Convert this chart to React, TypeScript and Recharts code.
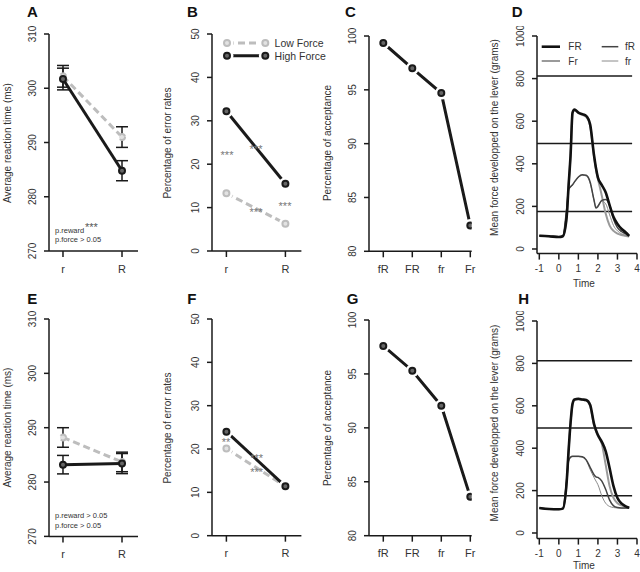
import React from 'react';
import { LineChart, Line, XAxis, YAxis, ErrorBar, ReferenceLine, Legend } from 'recharts';

const FONT = "'Liberation Sans', Arial, Helvetica, sans-serif";
const INK = '#1a1a1a';
const GRAY = '#bdbdbd';
const TXT = '#333';

// ---------- categories & ticks
const rewardCats = ['r', 'R'];
const acceptCats = ['fR', 'FR', 'fr', 'Fr'];
const rtTicks = [270, 280, 290, 300, 310];
const errTicks = [0, 10, 20, 30, 40, 50];
const accTicks = [80, 85, 90, 95, 100];
const forceTicks = [0, 200, 400, 600, 800, 1000];
const timeTicks = [-1, 0, 1, 2, 3, 4];

// ---------- Panel A (reaction time)
const rtLowA = [302.2, 291.0];
const rtLowErrA = [2.0, 1.9];
const rtHighA = [301.7, 284.8];
const rtHighErrA = [2.0, 1.85];
// ---------- Panel E
const rtLowE = [288.2, 283.7];
const rtLowErrE = [1.8, 1.8];
const rtHighE = [283.2, 283.4];
const rtHighErrE = [1.7, 1.85];
// ---------- Panel B (error rates)
const errLowB = [13.3, 6.3];
const errHighB = [32.2, 15.5];
// ---------- Panel F
const errLowF = [20.1, 11.4];
const errHighF = [24.0, 11.4];
// ---------- Panel C / G (acceptance)
const accC = [99.35, 97.0, 94.7, 82.4];
const accG = [97.6, 95.3, 92.05, 83.6];
// ---------- Panel D / H (force traces)
const time = [-1, -0.5, 0, 0.2, 0.4, 0.5, 0.6, 0.7, 0.8, 1.0, 1.2, 1.4, 1.6, 1.8, 1.9, 2.0, 2.2, 2.4, 2.6, 2.8, 3.0, 3.2, 3.4, 3.6];
const FR_D = [62, 60, 56, 60, 150, 300, 440, 640, 655, 640, 633, 625, 585, 440, 380, 335, 300, 265, 205, 150, 118, 95, 80, 62];
const Fr_D = [62, 60, 56, 60, 150, 300, 440, 635, 650, 638, 630, 620, 580, 435, 375, 330, 250, 165, 110, 85, 72, 66, 62, 58];
const fR_D = [62, 60, 56, 60, 190, 280, 292, 302, 315, 338, 348, 346, 315, 230, 192, 200, 228, 232, 205, 140, 100, 82, 72, 62];
const fr_D = [62, 60, 56, 60, 188, 278, 290, 300, 313, 336, 346, 343, 310, 228, 195, 205, 225, 212, 160, 110, 85, 72, 65, 60];
const FR_H = [118, 113, 112, 115, 240, 390, 520, 610, 630, 633, 630, 627, 605, 515, 485, 462, 430, 385, 305, 220, 165, 140, 127, 119];
const Fr_H = [118, 113, 112, 115, 240, 390, 520, 605, 628, 630, 628, 625, 600, 510, 480, 458, 420, 320, 220, 165, 140, 130, 123, 118];
const fR_H = [118, 113, 112, 115, 250, 340, 358, 362, 362, 362, 360, 345, 310, 275, 265, 262, 245, 205, 155, 128, 120, 118, 118, 118];
const fr_H = [118, 113, 112, 115, 250, 340, 356, 360, 360, 360, 358, 343, 300, 262, 245, 228, 175, 140, 125, 120, 118, 117, 117, 117];
const thresholds = [176, 495, 812];
const thresholdEnd = 3.75;

const forceNames = ['Low Force', 'High Force'];
const traceNames = ['FR', 'Fr', 'fR', 'fr'];
const traceStyle: Record<string, { stroke: string; width: number }> = {
  FR: { stroke: '#111', width: 2.6 },
  Fr: { stroke: '#9a9a9a', width: 2 },
  fR: { stroke: '#444', width: 1.5 },
  fr: { stroke: '#8a8a8a', width: 1 },
};

// ---------- rows built from the arrays
const rtRows = (low: number[], lowErr: number[], high: number[], highErr: number[]) =>
  rewardCats.map((c, i) => ({ x: i, cat: c, low: low[i], lowErr: lowErr[i], high: high[i], highErr: highErr[i] }));
const errRows = (low: number[], high: number[]) => rewardCats.map((c, i) => ({ x: i, cat: c, low: low[i], high: high[i] }));
const accRows = (v: number[]) => acceptCats.map((c, i) => ({ x: i, cat: c, v: v[i] }));
const traceRows = (FR: number[], Fr: number[], fR: number[], fr: number[]) =>
  time.map((t, i) => ({ t, FR: FR[i], Fr: Fr[i], fR: fR[i], fr: fr[i] }));

// ---------- layout helpers
type Box = { l: number; r: number; t: number; b: number };
const YW = 40, MT = 10, MR = 10, XH = 40;

const Frame = ({ box, data, children }: { box: Box; data: any[]; children: any }) => (
  <div style={{ position: 'absolute', left: box.l - YW, top: box.t - MT }}>
    <LineChart
      width={YW + box.r - box.l + MR}
      height={MT + box.b - box.t + XH}
      data={data}
      margin={{ top: MT, right: MR, left: 0, bottom: 0 }}
    >
      {children}
    </LineChart>
  </div>
);

const RotTick = (props: any) => {
  const { x, y, payload } = props;
  return (
    <text x={x} y={y} transform={`rotate(-90 ${x} ${y})`} textAnchor="middle" fontSize={10} fill={TXT} fontFamily={FONT}>
      {payload.value}
    </text>
  );
};
const makeCatTick = (cats: string[]) => (props: any) => {
  const { x, y, payload } = props;
  return (
    <text x={x} y={y} dy="0.71em" textAnchor="middle" fontSize={11} fill={TXT} fontFamily={FONT}>
      {cats[payload.value]}
    </text>
  );
};
const NumTick = (props: any) => {
  const { x, y, payload } = props;
  return (
    <text x={x} y={y} dy="0.71em" textAnchor="middle" fontSize={10} fill={TXT} fontFamily={FONT}>
      {payload.value}
    </text>
  );
};
const RewardTick = makeCatTick(rewardCats);
const AcceptTick = makeCatTick(acceptCats);

const axisLine = { stroke: INK, strokeWidth: 1.5 };
const tickLine = { stroke: INK, strokeWidth: 1.5 };

const blackDot = { r: 3, fill: '#666', stroke: INK, strokeWidth: 2 };
const grayDot = { r: 3, fill: '#e2e2e2', stroke: GRAY, strokeWidth: 2 };
const haloDot = (fill: string, stroke: string) => (p: any) => {
  const { cx, cy, index } = p;
  if (cx == null || cy == null) return <g key={index} />;
  return (
    <g key={index}>
      <circle cx={cx} cy={cy} r={6.5} fill="#fff" />
      <circle cx={cx} cy={cy} r={3} fill={fill} stroke={stroke} strokeWidth={2} />
    </g>
  );
};
const blackHalo = haloDot('#666', INK);
const grayHalo = haloDot('#e2e2e2', GRAY);

const catX = (domain: number[], ticks: number[], Tick: any) => (
  <XAxis
    type="number"
    dataKey="x"
    domain={domain}
    allowDataOverflow
    ticks={ticks}
    interval={0}
    tick={Tick}
    tickSize={6}
    tickMargin={8}
    axisLine={axisLine}
    tickLine={tickLine}
    height={XH}
  />
);
const numY = (domain: number[], ticks: number[]) => (
  <YAxis
    type="number"
    domain={domain}
    allowDataOverflow
    ticks={ticks}
    interval={0}
    tick={RotTick}
    tickSize={5}
    tickMargin={8}
    axisLine={axisLine}
    tickLine={tickLine}
    width={YW}
  />
);

// ---------- panels
const RTPanel = ({ box, rows }: { box: Box; rows: any[] }) => (
  <Frame box={box} data={rows}>
    {catX([-0.237, 1.271], [0, 1], RewardTick)}
    {numY([270, 310], rtTicks)}
    <Line dataKey="low" stroke={GRAY} strokeWidth={3} strokeDasharray="7 4" dot={grayDot} isAnimationActive={false}>
      <ErrorBar dataKey="lowErr" direction="y" width={6} stroke={INK} strokeWidth={1.5} />
    </Line>
    <Line dataKey="high" stroke={INK} strokeWidth={3} dot={blackDot} isAnimationActive={false}>
      <ErrorBar dataKey="highErr" direction="y" width={6} stroke={INK} strokeWidth={1.5} />
    </Line>
  </Frame>
);

const ForceLegend = () => (
  <svg width={110} height={28} style={{ overflow: 'visible' }}>
    {forceNames.map((n, i) => {
      const y = 7 + i * 12.8;
      const low = i === 0;
      return (
        <g key={n}>
          <line x1={6} x2={44.3} y1={y} y2={y} stroke={low ? GRAY : INK} strokeWidth={3} strokeDasharray={low ? '7 4' : undefined} />
          <circle cx={6} cy={y} r={6.5} fill="#fff" />
          <circle cx={44.3} cy={y} r={6.5} fill="#fff" />
          <circle cx={6} cy={y} r={3} fill={low ? '#e2e2e2' : '#666'} stroke={low ? GRAY : INK} strokeWidth={2} />
          <circle cx={44.3} cy={y} r={3} fill={low ? '#e2e2e2' : '#666'} stroke={low ? GRAY : INK} strokeWidth={2} />
          <text x={53.6} y={y + 3.8} fontSize={10.5} fill={TXT} fontFamily={FONT}>{n}</text>
        </g>
      );
    })}
  </svg>
);

const ErrPanel = ({ box, rows, legend }: { box: Box; rows: any[]; legend?: boolean }) => (
  <Frame box={box} data={rows}>
    {catX([-0.244, 1.271], [0, 1], RewardTick)}
    {numY([0, 50], errTicks)}
    <Line dataKey="low" stroke={GRAY} strokeWidth={3} strokeDasharray="7 4" dot={grayHalo} isAnimationActive={false} />
    <Line dataKey="high" stroke={INK} strokeWidth={3} dot={blackHalo} isAnimationActive={false} />
    {legend ? (
      <Legend
        layout="horizontal"
        verticalAlign="middle"
        align="center"
        wrapperStyle={{ left: 226.7 - 6 - (box.l - YW), top: 42.7 - 7 - (box.t - MT), width: 110, height: 28 }}
        content={() => <ForceLegend />}
      />
    ) : null}
  </Frame>
);

const AccPanel = ({ box, rows }: { box: Box; rows: any[] }) => (
  <Frame box={box} data={rows}>
    {catX([-0.493, 3.048], [0, 1, 2, 3], AcceptTick)}
    {numY([80, 100], accTicks)}
    <Line dataKey="v" stroke={INK} strokeWidth={3} dot={blackHalo} isAnimationActive={false} />
  </Frame>
);

const TraceLegend = () => (
  <svg width={100} height={28} style={{ overflow: 'visible' }}>
    {traceNames.map((n) => {
      const col = n === 'FR' || n === 'Fr' ? 0 : 1;
      const row = n === 'FR' || n === 'fR' ? 0 : 1;
      const y = 6.7 + row * 14.3;
      const x0 = col === 0 ? 1.7 : 61.7;
      const x1 = col === 0 ? 20 : 78.3;
      const tx = col === 0 ? 28.3 : 85;
      return (
        <g key={n}>
          <line x1={x0} x2={x1} y1={y} y2={y} stroke={traceStyle[n].stroke} strokeWidth={traceStyle[n].width} />
          <text x={tx} y={y + 3.6} fontSize={10} fill={TXT} fontFamily={FONT}>{n}</text>
        </g>
      );
    })}
  </svg>
);

const TracePanel = ({ box, rows, yMin, legend }: { box: Box; rows: any[]; yMin: number; legend?: boolean }) => (
  <Frame box={box} data={rows}>
    <XAxis
      type="number"
      dataKey="t"
      domain={[-1.118, 4]}
      allowDataOverflow
      ticks={timeTicks}
      interval={0}
      tick={NumTick}
      tickSize={6}
      tickMargin={5}
      axisLine={axisLine}
      tickLine={tickLine}
      height={XH}
    />
    {numY([yMin, 1000], forceTicks)}
    {thresholds.map((v) => (
      <ReferenceLine key={v} segment={[{ x: -1.118, y: v }, { x: thresholdEnd, y: v }]} stroke={INK} strokeWidth={1.5} />
    ))}
    {['Fr', 'fr', 'fR', 'FR'].map((n) => (
      <Line
        key={n}
        dataKey={n}
        type="monotone"
        stroke={traceStyle[n].stroke}
        strokeWidth={traceStyle[n].width}
        dot={false}
        isAnimationActive={false}
      />
    ))}
    {legend ? (
      <Legend
        layout="horizontal"
        verticalAlign="middle"
        align="center"
        wrapperStyle={{ left: 540 - (box.l - YW), top: 40 - (box.t - MT), width: 100, height: 28 }}
        content={() => <TraceLegend />}
      />
    ) : null}
  </Frame>
);

// ---------- boxes
const boxA: Box = { l: 49, r: 138, t: 34, b: 251 };
const boxE: Box = { l: 49, r: 138, t: 319.3, b: 536.7 };
const boxB: Box = { l: 212.3, r: 301.7, t: 34, b: 251 };
const boxF: Box = { l: 212.3, r: 301.7, t: 319.3, b: 536 };
const boxC: Box = { l: 369, r: 471.7, t: 35.7, b: 251 };
const boxG: Box = { l: 369, r: 471.7, t: 320, b: 535.7 };
const boxD: Box = { l: 536.7, r: 636.7, t: 35.7, b: 253.3 };
const boxH: Box = { l: 536.7, r: 636.7, t: 320.7, b: 538.3 };

// ---------- overlay text
const letters = [
  { s: 'A', x: 27, y: 17 }, { s: 'B', x: 187, y: 17 }, { s: 'C', x: 345, y: 17 }, { s: 'D', x: 511.7, y: 17 },
  { s: 'E', x: 27.3, y: 304 }, { s: 'F', x: 187.3, y: 304 }, { s: 'G', x: 346.7, y: 304 }, { s: 'H', x: 518.3, y: 304 },
];
const yTitles = [
  { s: 'Average reaction time (ms)', x: 11, y: 143 },
  { s: 'Percentage of error rates', x: 171, y: 143 },
  { s: 'Percentage of acceptance', x: 331, y: 143 },
  { s: 'Mean force developped on the lever (grams)', x: 498, y: 137.5 },
  { s: 'Average reaction time (ms)', x: 11, y: 427.5 },
  { s: 'Percentage of error rates', x: 171, y: 428 },
  { s: 'Percentage of acceptance', x: 331, y: 428 },
  { s: 'Mean force developped on the lever (grams)', x: 498, y: 423 },
];
const stars = [
  { s: '***', x: 227, y: 153 }, { s: '***', x: 256, y: 146.7 }, { s: '***', x: 256, y: 209.3 }, { s: '***', x: 285, y: 204 },
  { s: '**', x: 226, y: 440 }, { s: '***', x: 256.7, y: 456 }, { s: '***', x: 256.7, y: 469.5 },
];
const notes = [
  { s: 'p.reward', x: 55, y: 232.5 },
  { s: 'p.force > 0.05', x: 55, y: 241.5 },
  { s: 'p.reward > 0.05', x: 55, y: 517.5 },
  { s: 'p.force > 0.05', x: 55, y: 527.5 },
];

export default function App() {
  return (
    <div style={{ position: 'absolute', left: 0, top: 0, width: 640, height: 572, background: '#fff', fontFamily: FONT }}>
      <RTPanel box={boxA} rows={rtRows(rtLowA, rtLowErrA, rtHighA, rtHighErrA)} />
      <ErrPanel box={boxB} rows={errRows(errLowB, errHighB)} legend />
      <AccPanel box={boxC} rows={accRows(accC)} />
      <TracePanel box={boxD} rows={traceRows(FR_D, Fr_D, fR_D, fr_D)} yMin={-21.6} legend />
      <RTPanel box={boxE} rows={rtRows(rtLowE, rtLowErrE, rtHighE, rtHighErrE)} />
      <ErrPanel box={boxF} rows={errRows(errLowF, errHighF)} />
      <AccPanel box={boxG} rows={accRows(accG)} />
      <TracePanel box={boxH} rows={traceRows(FR_H, Fr_H, fR_H, fr_H)} yMin={-26.4} />
      <svg width={640} height={572} style={{ position: 'absolute', left: 0, top: 0, pointerEvents: 'none' }}>
        {letters.map((l) => (
          <text key={l.s} x={l.x} y={l.y} fontSize={15} fontWeight="bold" fill="#111" fontFamily={FONT}>{l.s}</text>
        ))}
        {yTitles.map((t, i) => (
          <text key={i} x={t.x} y={t.y} transform={`rotate(-90 ${t.x} ${t.y})`} textAnchor="middle" fontSize={10} fill={TXT} fontFamily={FONT}>
            {t.s}
          </text>
        ))}
        {stars.map((s, i) => (
          <text key={i} x={s.x} y={s.y + 6.4} textAnchor="middle" fontSize={11} fill="#777" fontFamily={FONT}>{s.s}</text>
        ))}
        {notes.map((n, i) => (
          <text key={i} x={n.x} y={n.y} fontSize={7.5} fill={TXT} fontFamily={FONT}>{n.s}</text>
        ))}
        <text x={85} y={231} fontSize={11} fill="#555" fontFamily={FONT}>***</text>
        <text x={584} y={286.5} textAnchor="middle" fontSize={10} fill={TXT} fontFamily={FONT}>Time</text>
        <text x={584} y={568.5} textAnchor="middle" fontSize={10} fill={TXT} fontFamily={FONT}>Time</text>
      </svg>
    </div>
  );
}
